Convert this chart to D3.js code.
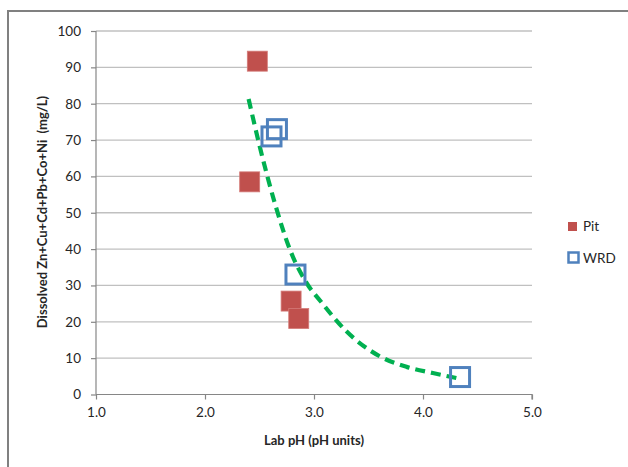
<!DOCTYPE html>
<html>
<head>
<meta charset="utf-8">
<script src="https://cdn.jsdelivr.net/npm/d3@7"></script>
<style>
  body { margin: 0; background: #fff; }
  svg text { font-family: Lato, "Open Sans", sans-serif; fill: #262626; }
</style>
</head>
<body>
<div class="chart"></div>
<script>
"use strict";

// data
const pitX = [2.48, 2.41, 2.79, 2.86];
const pitY = [91.7, 58.5, 25.7, 20.9];
const wrdX = [2.66, 2.61, 2.83, 4.34];
const wrdY = [73.0, 71.0, 33.0, 4.8];
const trendX = [2.40, 2.50, 2.64, 2.78, 2.93, 3.07, 3.30, 3.61, 3.85, 4.09, 4.31];
const trendY = [81.3, 68.5, 52.7, 39.8, 30.8, 25.3, 17.3, 10.4, 7.6, 5.9, 4.5];
const xTicks = [1, 2, 3, 4, 5];
const yTicks = [0, 10, 20, 30, 40, 50, 60, 70, 80, 90, 100];

const W = 628, H = 467;
const PLOT = { left: 96, right: 532, top: 31, bottom: 394.5 };

const svg = d3
  .select(".chart")
  .append("svg")
  .attr("width", W)
  .attr("height", H);

// outer frame
svg
  .append("path")
  .attr("d", `M8,${H + 2}V11H${W + 2}`)
  .attr("fill", "none")
  .attr("stroke", "#808080")
  .attr("stroke-width", 2);

const x = d3.scaleLinear().domain([1, 5]).range([PLOT.left, PLOT.right]);
const y = d3.scaleLinear().domain([0, 100]).range([PLOT.bottom, PLOT.top]);

// gridlines
svg
  .append("g")
  .selectAll("line")
  .data(yTicks.filter((d) => d > 0))
  .join("line")
  .attr("x1", PLOT.left)
  .attr("x2", PLOT.right)
  .attr("y1", (d) => y(d))
  .attr("y2", (d) => y(d))
  .attr("stroke", "#c0c0c0")
  .attr("stroke-width", 1.3);

// axes
const yAxis = d3.axisLeft(y).tickValues(yTicks).tickSize(5).tickPadding(10);
const xAxis = d3
  .axisBottom(x)
  .tickValues(xTicks)
  .tickSize(5)
  .tickPadding(8)
  .tickFormat(d3.format(".1f"));

const yG = svg.append("g").attr("transform", `translate(${PLOT.left},0)`).call(yAxis);
const xG = svg.append("g").attr("transform", `translate(0,${PLOT.bottom})`).call(xAxis);

[yG, xG].forEach((g) => {
  g.select(".domain").attr("stroke", "#868686").attr("stroke-width", 1.2);
  g.selectAll(".tick line").attr("stroke", "#868686").attr("stroke-width", 1.2);
  g.selectAll(".tick text").style("font-size", "13.5px").attr("fill", "#262626");
});
// y axis domain without end caps
yG.select(".domain").attr("d", `M0,${PLOT.top}V${PLOT.bottom}`);
xG.select(".domain").attr("d", `M${PLOT.left},0H${PLOT.right}V5`);

// axis titles
svg
  .append("text")
  .attr("x", 314)
  .attr("y", 445)
  .attr("text-anchor", "middle")
  .style("font-size", "13px")
  .style("font-weight", "bold")
  .text("Lab pH (pH units)");

svg
  .append("text")
  .attr("transform", "translate(47,212) rotate(-90)")
  .attr("text-anchor", "middle")
  .style("font-size", "13px")
  .style("font-weight", "bold")
  .style("white-space", "pre")
  .text("Dissolved Zn+Cu+Cd+Pb+Co+Ni  (mg/L)");

// trendline
const trend = trendX.map((d, i) => [d, trendY[i]]);
svg
  .append("path")
  .datum(trend)
  .attr("fill", "none")
  .attr("stroke", "#00b050")
  .attr("stroke-width", 4.2)
  .attr("stroke-dasharray", "10,6")
  .attr("d", d3.line().x((d) => x(d[0])).y((d) => y(d[1])).curve(d3.curveMonotoneX));

// Pit markers
const S = 20;
svg
  .append("g")
  .selectAll("rect")
  .data(pitX.map((d, i) => [d, pitY[i]]))
  .join("rect")
  .attr("x", (d) => x(d[0]) - S / 2)
  .attr("y", (d) => y(d[1]) - S / 2)
  .attr("width", S)
  .attr("height", S)
  .attr("fill", "#c0504d")
  .attr("stroke", "#d47a78")
  .attr("stroke-width", 0.8);

// WRD markers
const S2 = 19;
svg
  .append("g")
  .selectAll("rect")
  .data(wrdX.map((d, i) => [d, wrdY[i]]))
  .join("rect")
  .attr("x", (d) => x(d[0]) - S2 / 2)
  .attr("y", (d) => y(d[1]) - S2 / 2)
  .attr("width", S2)
  .attr("height", S2)
  .attr("fill", "none")
  .attr("stroke", "#4f81bd")
  .attr("stroke-width", 3);

// legend
const legend = svg.append("g");
legend
  .append("rect")
  .attr("x", 568)
  .attr("y", 222)
  .attr("width", 9)
  .attr("height", 9)
  .attr("fill", "#c0504d");
legend
  .append("text")
  .attr("x", 583)
  .attr("y", 231)
  .style("font-size", "13.5px")
  .text("Pit");
legend
  .append("rect")
  .attr("x", 568.5)
  .attr("y", 252.5)
  .attr("width", 10)
  .attr("height", 10)
  .attr("fill", "none")
  .attr("stroke", "#4f81bd")
  .attr("stroke-width", 2.5);
legend
  .append("text")
  .attr("x", 583)
  .attr("y", 263)
  .style("font-size", "13.5px")
  .text("WRD");
</script>
</body>
</html>
